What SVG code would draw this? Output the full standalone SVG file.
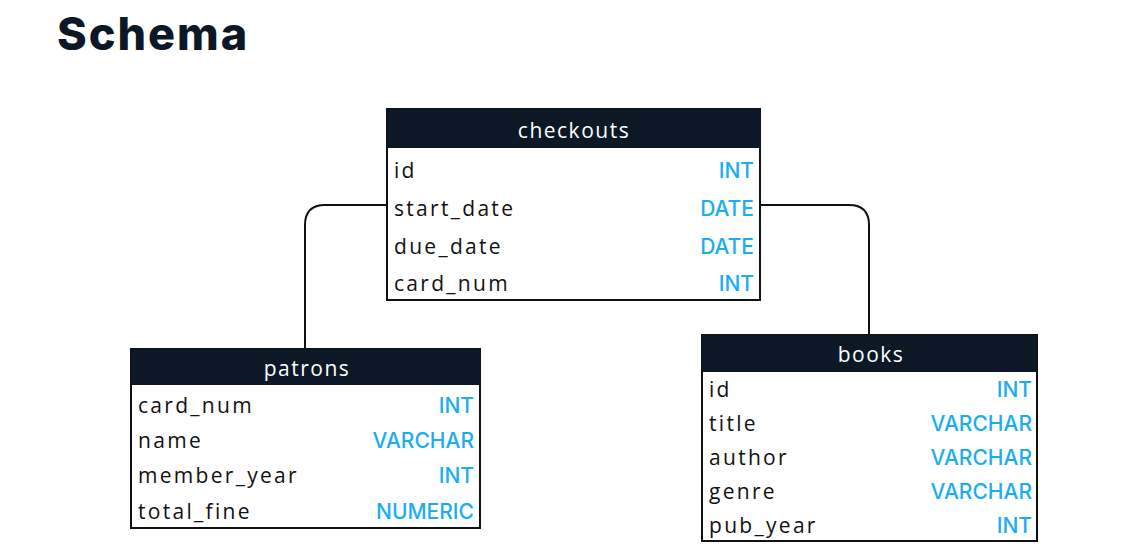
<svg xmlns="http://www.w3.org/2000/svg" width="1136" height="552" viewBox="0 0 1136 552">
<style>
.hd{fill:#0c1826}
.bx{fill:#fff;stroke:#111;stroke-width:2}
.ht{fill:#fff;font-family:"Open Sans",Inter,sans-serif;font-size:21px;text-anchor:middle;letter-spacing:1.5px}
.f{fill:#111;font-family:"Open Sans",Inter,sans-serif;font-size:21px;letter-spacing:2.3px}
.t{fill:#1aaef0;font-family:Inter,"Open Sans",sans-serif;font-size:21px;text-anchor:end;font-weight:500}
.c{fill:none;stroke:#111;stroke-width:2}
</style>
<rect width="1136" height="552" fill="#fff"/>
<text x="57" y="50" font-family="Inter,sans-serif" font-weight="800" font-size="45" letter-spacing="2" fill="#0c1826">Schema</text>
<g id="connectors">
<path class="c" d="M387 205 H325 Q305 205 305 225 V349"/>
<path class="c" d="M760 205 H849 Q869 205 869 225 V335"/>
</g>
<g id="checkouts">
<rect class="bx" x="387" y="109" width="373" height="191"/>
<rect class="hd" x="387" y="109" width="373" height="39"/>
<text class="ht" x="574" y="138">checkouts</text>
<text class="f" x="394" y="178">id</text><text class="t" x="754" y="178">INT</text>
<text class="f" x="394" y="216">start_date</text><text class="t" x="754" y="216">DATE</text>
<text class="f" x="394" y="254">due_date</text><text class="t" x="754" y="254">DATE</text>
<text class="f" x="394" y="291">card_num</text><text class="t" x="754" y="291">INT</text>
</g>
<g id="patrons">
<rect class="bx" x="131" y="349" width="349" height="179"/>
<rect class="hd" x="131" y="349" width="349" height="36"/>
<text class="ht" x="307" y="376">patrons</text>
<text class="f" x="138" y="413">card_num</text><text class="t" x="474" y="413">INT</text>
<text class="f" x="138" y="448">name</text><text class="t" x="474" y="448">VARCHAR</text>
<text class="f" x="138" y="483">member_year</text><text class="t" x="474" y="483">INT</text>
<text class="f" x="138" y="519">total_fine</text><text class="t" x="474" y="519">NUMERIC</text>
</g>
<g id="books">
<rect class="bx" x="702" y="335" width="335" height="206"/>
<rect class="hd" x="702" y="335" width="335" height="37"/>
<text class="ht" x="871" y="362">books</text>
<text class="f" x="709" y="397">id</text><text class="t" x="1032" y="397">INT</text>
<text class="f" x="709" y="431">title</text><text class="t" x="1032" y="431">VARCHAR</text>
<text class="f" x="709" y="465">author</text><text class="t" x="1032" y="465">VARCHAR</text>
<text class="f" x="709" y="499">genre</text><text class="t" x="1032" y="499">VARCHAR</text>
<text class="f" x="709" y="533">pub_year</text><text class="t" x="1032" y="533">INT</text>
</g>
</svg>
